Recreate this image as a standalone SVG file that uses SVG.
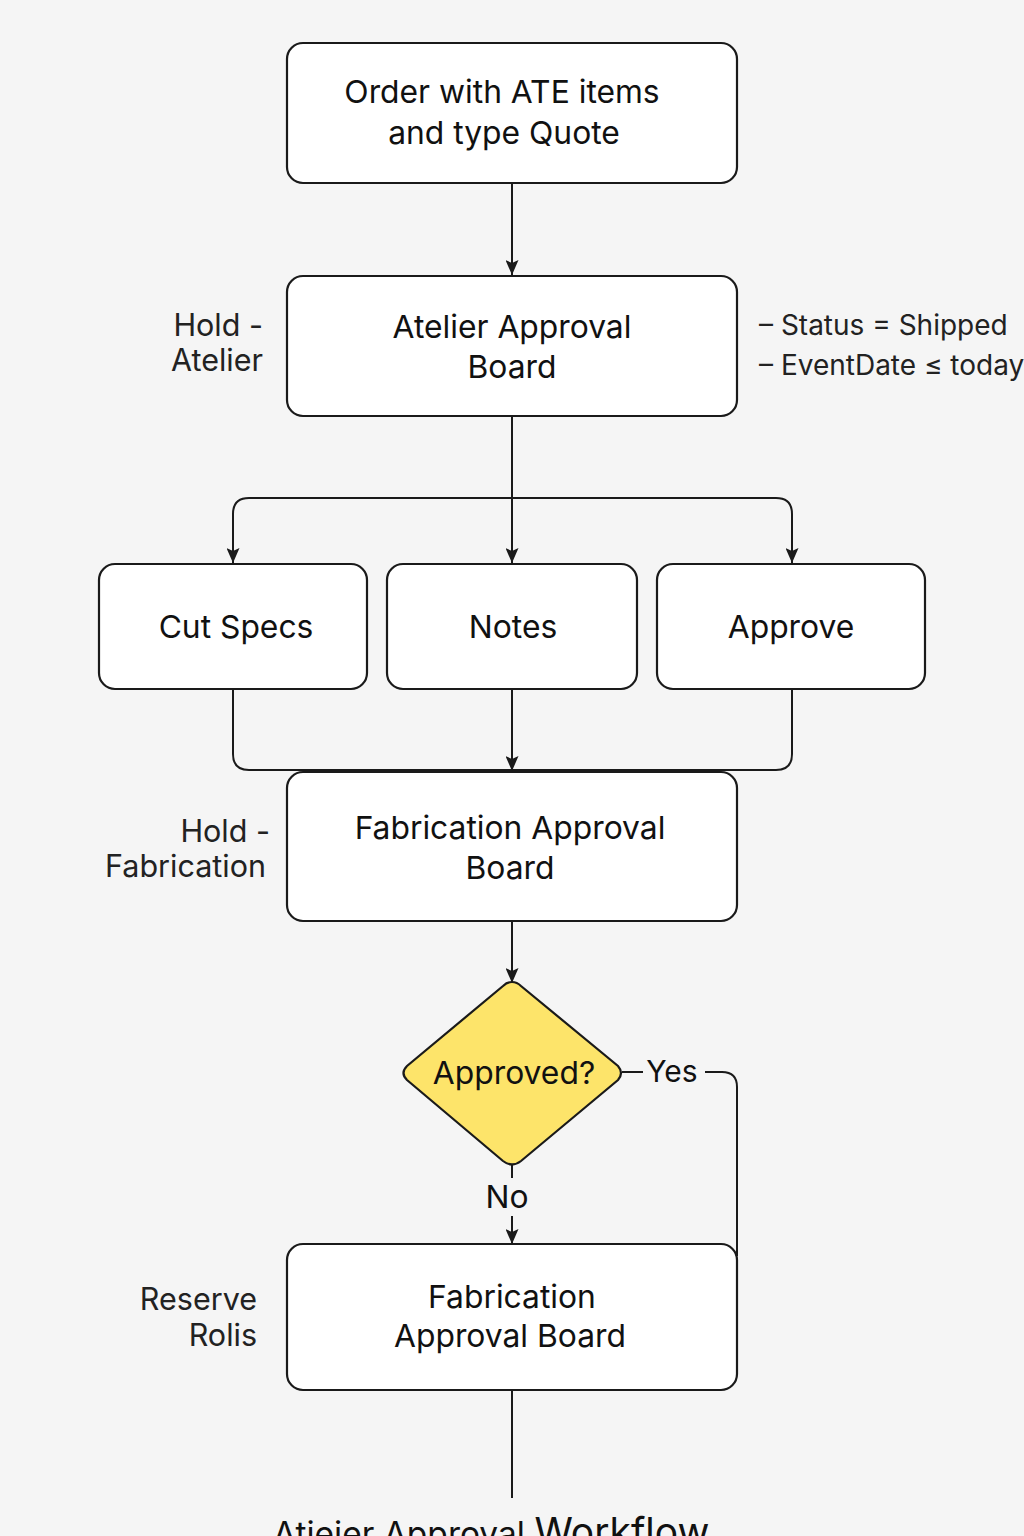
<svg xmlns="http://www.w3.org/2000/svg" width="1024" height="1536" viewBox="0 0 1024 1536">
<defs>
<marker id="ah" markerWidth="15" markerHeight="13" refX="15" refY="6.5" orient="auto" markerUnits="userSpaceOnUse" viewBox="0 0 15 13">
<path d="M0,0 L15,6.5 L0,13 L3,6.5 Z" fill="#1a1a1a"/>
</marker>
</defs>
<style>
.box{fill:#ffffff;stroke:#1a1a1a;stroke-width:2.2}
.t{font-family:Inter,"Noto Sans","Liberation Sans",sans-serif;font-size:31.8px;fill:#111;text-anchor:middle}
.lbl{font-family:Inter,"Noto Sans","Liberation Sans",sans-serif;font-size:30.5px;fill:#222}
.lr{font-family:Inter,"Noto Sans","Liberation Sans",sans-serif;font-size:28px;fill:#222}
.c{fill:none;stroke:#1a1a1a;stroke-width:2}
</style>
<rect width="1024" height="1536" fill="#f5f5f5"/>

<g id="connectors">
<path class="c" d="M512,183 V275" marker-end="url(#ah)"/>
<path class="c" d="M512,416 V563" marker-end="url(#ah)"/>
<path class="c" d="M233,540 V514 Q233,498 249,498 H776 Q792,498 792,514 V540"/>
<path class="c" d="M233,538 V563" marker-end="url(#ah)"/>
<path class="c" d="M792,538 V563" marker-end="url(#ah)"/>
<path class="c" d="M233,689 V754 Q233,770 249,770 H776 Q792,770 792,754 V689"/>
<path class="c" d="M512,689 V771" marker-end="url(#ah)"/>
<path class="c" d="M512,921 V983" marker-end="url(#ah)"/>
<path class="c" d="M622,1072 H643"/>
<path class="c" d="M705,1072 H722 Q737,1072 737,1087 V1256"/>
<path class="c" d="M512,1165 V1178"/>
<path class="c" d="M512,1216 V1244" marker-end="url(#ah)"/>
<path class="c" d="M512,1390 V1498"/>
</g>

<g id="n1"><rect class="box" x="287" y="43" width="450" height="140" rx="16"/>
<text class="t" x="502" y="103">Order with ATE items</text>
<text class="t" x="504" y="144">and type Quote</text></g>

<g id="n2"><rect class="box" x="287" y="276" width="450" height="140" rx="16"/>
<text class="t" x="512" y="338">Atelier Approval</text>
<text class="t" x="512" y="378">Board</text></g>

<g id="lbl-atelier">
<text class="lbl" x="263" y="336" text-anchor="end">Hold -</text>
<text class="lbl" x="263" y="371" text-anchor="end">Atelier</text></g>

<g id="lbl-cond">
<text class="lr" x="759" y="335">– Status = Shipped</text>
<text class="lr" x="759" y="375">– EventDate ≤ today</text></g>

<g id="n3"><rect class="box" x="99" y="564" width="268" height="125" rx="16"/>
<text class="t" x="236" y="638">Cut Specs</text></g>
<g id="n4"><rect class="box" x="387" y="564" width="250" height="125" rx="16"/>
<text class="t" x="513" y="638">Notes</text></g>
<g id="n5"><rect class="box" x="657" y="564" width="268" height="125" rx="16"/>
<text class="t" x="791" y="638">Approve</text></g>

<g id="n6"><rect class="box" x="287" y="772" width="450" height="149" rx="16"/>
<text class="t" x="510" y="839">Fabrication Approval</text>
<text class="t" x="510" y="879">Board</text></g>

<g id="lbl-fab">
<text class="lbl" x="270" y="842" text-anchor="end">Hold -</text>
<text class="lbl" x="266" y="877" text-anchor="end">Fabrication</text></g>

<g id="n7">
<path d="M512,982 Q517,982 521,986 L618,1066 Q624,1073 618,1080 L521,1161 Q512,1168 503,1161 L407,1080 Q400,1073 407,1066 L503,986 Q507,982 512,982 Z" fill="#fde46a" stroke="#1a1a1a" stroke-width="2.2"/>
<text class="t" x="514" y="1084">Approved?</text></g>

<g id="lbl-yes"><text class="t" x="672" y="1082" style="font-size:30px">Yes</text></g>
<g id="lbl-no"><text class="t" x="507" y="1208">No</text></g>

<g id="n8"><rect class="box" x="287" y="1244" width="450" height="146" rx="16"/>
<text class="t" x="512" y="1308">Fabrication</text>
<text class="t" x="510" y="1347">Approval Board</text></g>

<g id="lbl-reserve">
<text class="lbl" x="257" y="1310" text-anchor="end">Reserve</text>
<text class="lbl" x="257" y="1346" text-anchor="end">Rolis</text></g>

<g id="title"><text x="273" y="1546" style="font-family:Inter,'Noto Sans','Liberation Sans',sans-serif;font-size:33.5px;fill:#111">Atieier Approval <tspan style="font-size:39px">Workflow</tspan></text></g>
</svg>
